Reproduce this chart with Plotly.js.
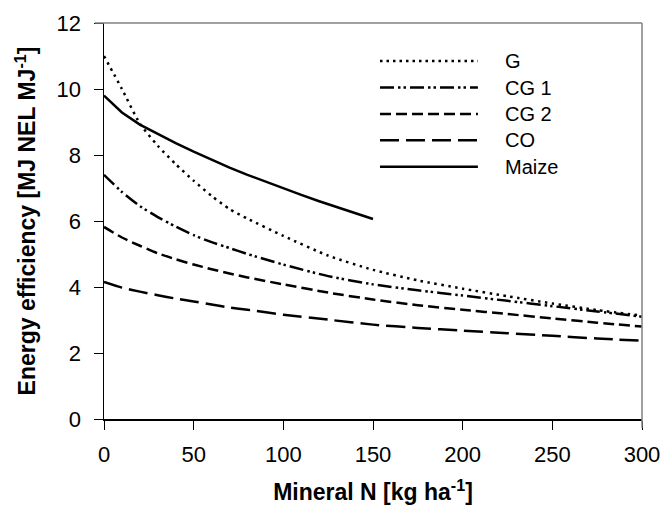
<!DOCTYPE html>
<html>
<head>
<meta charset="utf-8">
<script src="https://cdn.plot.ly/plotly-3.0.1.min.js"></script>
<style>html,body{margin:0;padding:0;background:#fff;}#chart{width:664px;height:511px;}</style>
</head>
<body>
<div id="chart"></div>
<script>
// Mineral N rates [kg ha-1]
const xN = [0, 10, 20, 30, 40, 50, 60, 70, 80, 100, 125, 150, 175, 200, 225, 250, 275, 300];
const G   = [11.0, 10.0, 8.95, 8.28, 7.72, 7.22, 6.76, 6.36, 6.07, 5.55, 4.95, 4.52, 4.2, 3.95, 3.72, 3.5, 3.3, 3.13];
const CG1 = [7.4, 6.88, 6.45, 6.12, 5.83, 5.57, 5.36, 5.18, 5.0, 4.68, 4.33, 4.08, 3.9, 3.74, 3.58, 3.42, 3.26, 3.1];
const CG2 = [5.82, 5.5, 5.25, 5.02, 4.84, 4.68, 4.54, 4.41, 4.29, 4.08, 3.83, 3.62, 3.45, 3.31, 3.18, 3.05, 2.92, 2.8];
const CO  = [4.15, 3.98, 3.86, 3.75, 3.65, 3.56, 3.47, 3.38, 3.31, 3.16, 3.01, 2.86, 2.76, 2.68, 2.6, 2.52, 2.44, 2.37];
const xMaize = [0, 10, 20, 30, 40, 50, 60, 70, 80, 90, 100, 110, 120, 130, 140, 150];
const Maize  = [9.8, 9.29, 8.92, 8.63, 8.36, 8.1, 7.85, 7.62, 7.4, 7.19, 6.98, 6.79, 6.6, 6.42, 6.24, 6.06];

const seriesNames = ['G', 'CG 1', 'CG 2', 'CO', 'Maize'];
const seriesX = [xN, xN, xN, xN, xMaize];
const seriesY = [G, CG1, CG2, CO, Maize];
const seriesDash = ['2.5px,4.5px', '14px,4px,2.5px,3px,2.5px,4px', '11px,5px', '19px,7px', 'solid'];
const legendDash = ['2.5px,4px', '14px,4px,2.5px,3px,2.5px,4px', '11px,5px', '19px,7px', 'solid'];

const xTicks = [0, 50, 100, 150, 200, 250, 300];
const yTicks = [0, 2, 4, 6, 8, 10, 12];

const FONT = 'Liberation Sans, Arial, sans-serif';

const traces = seriesNames.map((n, i) => ({
  x: seriesX[i], y: seriesY[i], name: n, type: 'scatter', mode: 'lines',
  line: {color: '#000', width: 2.5, dash: seriesDash[i], shape: i === 4 ? 'linear' : 'spline', smoothing: 0.6},
  hoverinfo: 'skip'
}));

// legend drawn in paper coordinates
const legX0 = 0.513, legX1 = 0.695, legTextX = 0.742;
const legY = [0.904, 0.837, 0.770, 0.704, 0.637];
const shapes = [];
const annotations = [];
seriesNames.forEach((n, i) => {
  shapes.push({type: 'line', xref: 'paper', yref: 'paper', x0: legX0, x1: legX1, y0: legY[i], y1: legY[i],
    line: {color: '#000', width: 2.5, dash: legendDash[i]}});
  annotations.push({xref: 'paper', yref: 'paper', x: legTextX, y: legY[i], xanchor: 'left', yanchor: 'middle',
    text: n, showarrow: false, font: {family: FONT, size: 20, color: '#000'}});
});
// gray frame (top and right)
shapes.push({type: 'line', xref: 'paper', yref: 'paper', x0: -0.017, x1: 1, y0: 1, y1: 1, line: {color: '#808080', width: 1.5}});
shapes.push({type: 'line', xref: 'paper', yref: 'paper', x0: 1, x1: 1, y0: 1, y1: -0.022, line: {color: '#808080', width: 1.5}});

const layout = {
  width: 664, height: 511,
  margin: {l: 104, r: 22, t: 23, b: 92},
  paper_bgcolor: '#fff', plot_bgcolor: '#fff',
  showlegend: false,
  font: {family: FONT, color: '#000'},
  xaxis: {
    range: [0, 300], tickvals: xTicks, ticktext: xTicks.map(String),
    ticks: 'outside', ticklen: 9, tickcolor: '#000', tickwidth: 1,
    showline: true, linecolor: '#000', linewidth: 1.5,
    showgrid: false, zeroline: false, ticklabelstandoff: 6,
    tickfont: {family: FONT, size: 22, color: '#000'},
    title: {text: 'Mineral N [kg ha<sup>-1</sup>]', font: {family: FONT, size: 23, color: '#000', weight: 'bold'}, standoff: 18}
  },
  yaxis: {
    range: [0, 12], tickvals: yTicks, ticktext: yTicks.map(String),
    ticks: 'outside', ticklen: 9, tickcolor: '#000', tickwidth: 1,
    showline: true, linecolor: '#000', linewidth: 1.5,
    showgrid: false, zeroline: false, ticklabelstandoff: 8,
    tickfont: {family: FONT, size: 22, color: '#000'},
    title: {text: 'Energy efficiency [MJ NEL MJ<sup>-1</sup>]', font: {family: FONT, size: 23, color: '#000', weight: 'bold'}, standoff: 14}
  },
  shapes: shapes,
  annotations: annotations
};

Plotly.newPlot('chart', traces, layout, {displayModeBar: false, staticPlot: true});
</script>
</body>
</html>
